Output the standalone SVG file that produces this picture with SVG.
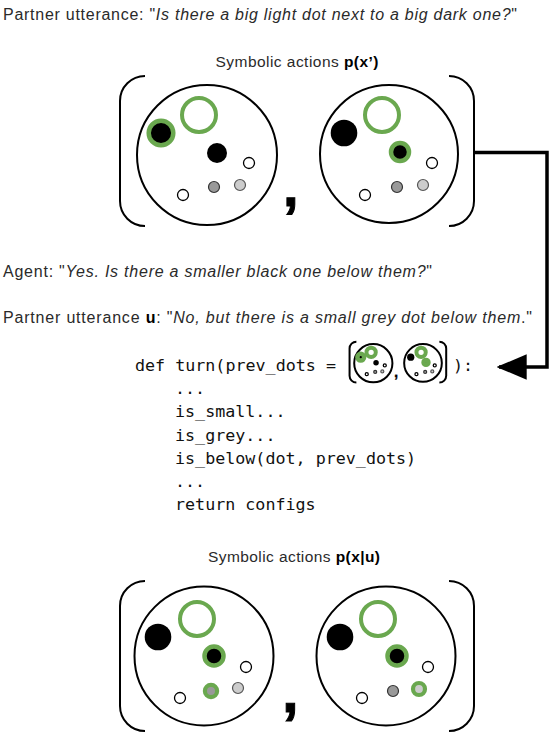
<svg xmlns="http://www.w3.org/2000/svg" xmlns:xlink="http://www.w3.org/1999/xlink" width="553" height="740" viewBox="0 0 553 740">
<defs>
<style>
.lbl{font-family:"Liberation Sans",Arial,sans-serif;font-size:16px;fill:#2a2a2a}
.ttl{font-family:"Liberation Sans",Arial,sans-serif;font-size:15.5px;fill:#2a2a2a}
.it{font-style:italic}
.b{font-weight:bold;fill:#000}
.code{font-family:"DejaVu Sans Mono","Liberation Mono",monospace;font-size:16.7px;fill:#111}
.comma{font-family:"Liberation Sans",Arial,sans-serif;font-weight:bold;fill:#000;stroke:#000;stroke-width:1}
.frame{fill:#fff;stroke:#000;stroke-width:2;vector-effect:non-scaling-stroke}
.brk{fill:none;stroke:#000;stroke-width:2;vector-effect:non-scaling-stroke}
.gring{fill:#fff;stroke:#6aa84f;stroke-width:4;vector-effect:non-scaling-stroke}
.gblk{fill:#000;stroke:#6aa84f;stroke-width:4.5;vector-effect:non-scaling-stroke}
.gdg{fill:#999;stroke:#6aa84f;stroke-width:4.2;vector-effect:non-scaling-stroke}
.glg{fill:#ccc;stroke:#6aa84f;stroke-width:4.2;vector-effect:non-scaling-stroke}
.blk{fill:#000}
.wd{fill:#fff;stroke:#000;stroke-width:1.3;vector-effect:non-scaling-stroke}
.dg{fill:#999;stroke:#333;stroke-width:1.2;vector-effect:non-scaling-stroke}
.lg{fill:#ccc;stroke:#555;stroke-width:1.2;vector-effect:non-scaling-stroke}
.conn{fill:none;stroke:#000;stroke-width:3.5}
</style>
<marker id="ah" markerUnits="userSpaceOnUse" markerWidth="30" markerHeight="30" viewBox="0 0 26 22" refX="24" refY="11" orient="auto">
<path d="M0,0 L26,11 L0,22 Z" fill="#000"/>
</marker>
</defs>

<g id="text-partner1">
<text class="lbl" x="3" y="20" textLength="514" lengthAdjust="spacing">Partner utterance: "<tspan class="it">Is there a big light dot next to a big dark one?</tspan>"</text>
</g>
<g id="title-top">
<text class="ttl" x="215.5" y="67" textLength="163" lengthAdjust="spacing">Symbolic actions <tspan class="b">p(x’)</tspan></text>
</g>

<g id="panel-top">
<path class="brk" d="M145,76 A25,25 0 0 0 120,101 L120,201 A25,25 0 0 0 145,226"/>
<path class="brk" d="M449,76 A25,25 0 0 1 474,101 L474,201 A25,25 0 0 1 449,226"/>
<g id="board-top-left">
<circle class="frame" cx="207" cy="155" r="70"/>
<circle class="gring" cx="199" cy="115" r="17"/>
<circle class="gblk" cx="161" cy="133" r="12.3"/>
<circle class="blk" cx="217" cy="153" r="10"/>
<circle class="wd" cx="249" cy="163" r="5.5"/>
<circle class="dg" cx="214" cy="187" r="5.5"/>
<circle class="lg" cx="240" cy="185" r="5.5"/>
<circle class="wd" cx="183" cy="195" r="5.5"/>
</g>
<text class="comma" x="283" y="206" font-size="56">,</text>
<g id="board-top-right">
<circle class="frame" cx="389" cy="154" r="69"/>
<circle class="gring" cx="382" cy="115" r="17"/>
<circle class="blk" cx="344" cy="133" r="13.3"/>
<circle class="gblk" cx="400" cy="152" r="9"/>
<circle class="wd" cx="432" cy="163" r="5.5"/>
<circle class="dg" cx="397" cy="187" r="5.5"/>
<circle class="lg" cx="423" cy="185" r="5.5"/>
<circle class="wd" cx="365" cy="195" r="5.5"/>
</g>
</g>

<g id="text-agent">
<text class="lbl" x="3" y="277" textLength="429" lengthAdjust="spacing">Agent: "<tspan class="it">Yes. Is there a smaller black one below them?</tspan>"</text>
</g>
<g id="text-partner2">
<text class="lbl" x="3" y="323" textLength="529" lengthAdjust="spacing">Partner utterance <tspan class="b">u</tspan>: "<tspan class="it">No, but there is a small grey dot below them</tspan>."</text>
</g>

<g id="code">
<text class="code" x="135" y="371">def turn(prev_dots =</text>
<text class="code" x="453" y="371">):</text>
<text class="code" x="175" y="394">...</text>
<text class="code" x="175" y="417">is_small...</text>
<text class="code" x="175" y="440.5">is_grey...</text>
<text class="code" x="175" y="464">is_below(dot, prev_dots)</text>
<text class="code" x="175" y="487">...</text>
<text class="code" x="175" y="510">return configs</text>
</g>
<g id="mini-prev-dots">
<use xlink:href="#panel-top" href="#panel-top" transform="translate(316.8,320.9) scale(0.273)"/>
</g>

<g id="title-bottom">
<text class="ttl" x="208" y="562" textLength="172" lengthAdjust="spacing">Symbolic actions <tspan class="b">p(x|u)</tspan></text>
</g>

<g id="panel-bottom">
<path class="brk" d="M145,581 A25,25 0 0 0 120,606 L120,706 A25,25 0 0 0 145,731"/>
<path class="brk" d="M449,581 A25,25 0 0 1 474,606 L474,706 A25,25 0 0 1 449,731"/>
<g id="board-bottom-left">
<circle class="frame" cx="204" cy="656" r="69.5"/>
<circle class="gring" cx="197" cy="619" r="17"/>
<circle class="blk" cx="158" cy="637" r="13.3"/>
<circle class="gblk" cx="214" cy="656" r="9.5"/>
<circle class="wd" cx="246" cy="667" r="5.5"/>
<circle class="gdg" cx="211" cy="691" r="6.1"/>
<circle class="lg" cx="238" cy="688" r="5.5"/>
<circle class="wd" cx="180" cy="698" r="5.5"/>
</g>
<text class="comma" x="282" y="712" font-size="60">,</text>
<g id="board-bottom-right">
<circle class="frame" cx="386" cy="656" r="69.5"/>
<circle class="gring" cx="378" cy="619" r="17"/>
<circle class="blk" cx="340" cy="637" r="13.3"/>
<circle class="gblk" cx="397" cy="656" r="9.5"/>
<circle class="wd" cx="428" cy="667" r="5.5"/>
<circle class="dg" cx="393" cy="691" r="5.5"/>
<circle class="glg" cx="419" cy="689" r="6"/>
<circle class="wd" cx="362" cy="698" r="5.5"/>
</g>
</g>

<g id="connectors">
<path class="conn" d="M474,152.5 H547 V367 H499" marker-end="url(#ah)"/>
</g>
</svg>
